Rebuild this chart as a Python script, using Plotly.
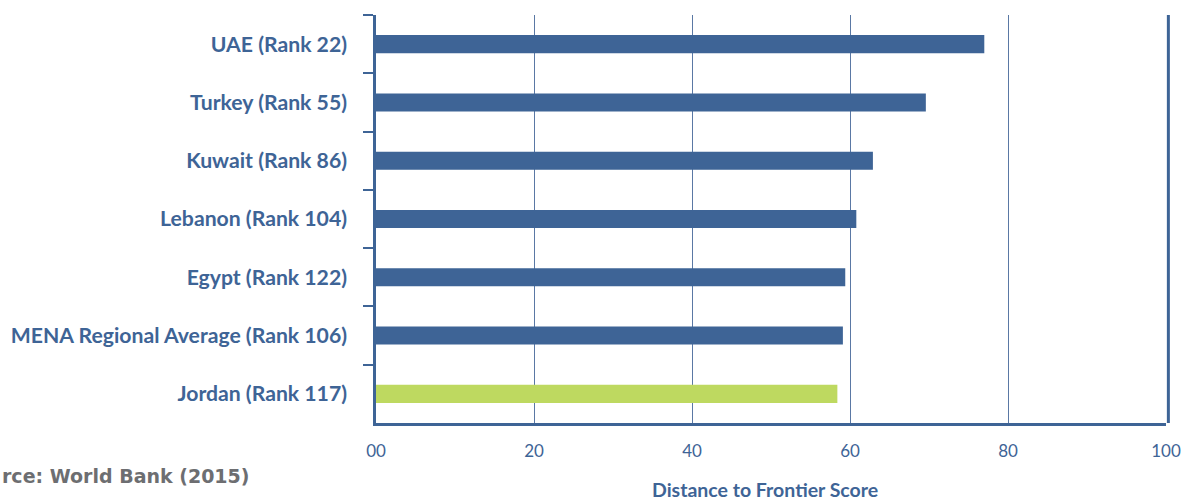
import plotly.graph_objects as go

categories = ["UAE (Rank 22)", "Turkey (Rank 55)", "Kuwait (Rank 86)", "Lebanon (Rank 104)",
              "Egypt (Rank 122)", "MENA Regional Average (Rank 106)", "Jordan (Rank 117)"]
scores = [77.0, 69.6, 62.9, 60.8, 59.4, 59.1, 58.4]
bar_colors = ["#3e6496"] * 6 + ["#bed960"]
tick_vals = [0, 20, 40, 60, 80, 100]
tick_text = ["00", "20", "40", "60", "80", "100"]

BLUE = "#3e6496"

fig = go.Figure()
fig.add_trace(go.Bar(
    y=categories, x=scores, orientation="h",
    marker=dict(color=bar_colors, line=dict(width=0)),
    width=0.31,
))

fig.update_layout(
    width=1184, height=502,
    margin=dict(l=376, r=18, t=15, b=79),
    plot_bgcolor="white", paper_bgcolor="white",
    showlegend=False,
    font=dict(family="Lato, sans-serif", color=BLUE),
    xaxis=dict(
        range=[0, 100], tickvals=tick_vals, ticktext=tick_text,
        showgrid=True, gridcolor="#5a78a4", gridwidth=1,
        showline=True, linecolor=BLUE, linewidth=2.5,
        ticks="", tickfont=dict(size=17, color=BLUE, family="Lato, sans-serif"),
        ticklabelstandoff=11, zeroline=False, automargin=False,
    ),
    yaxis=dict(
        categoryorder="array", categoryarray=categories, autorange="reversed",
        tickson="boundaries", ticks="outside", ticklen=10, tickwidth=2, tickcolor=BLUE,
        showline=True, linecolor=BLUE, linewidth=2.5,
        tickfont=dict(size=21.2, color=BLUE, family="Lato, sans-serif", weight="bold"),
        ticklabelstandoff=22, showgrid=False, automargin=False,
    ),
)

fig.add_shape(type="line", xref="paper", yref="paper", x0=1.003, x1=1.003, y0=0, y1=1,
              line=dict(color=BLUE, width=3))

fig.add_annotation(text="Distance to Frontier Score", xref="paper", yref="paper",
                   x=0.492, y=-0.163, xanchor="center", yanchor="middle", showarrow=False,
                   font=dict(size=19.5, color=BLUE, family="Lato, sans-serif", weight="bold"))
fig.add_annotation(text="rce: World Bank (2015)", xref="paper", yref="paper",
                   x=-376/790, y=-0.13, xanchor="left", yanchor="middle", showarrow=False,
                   font=dict(size=19, color="#6d6e71", family="DejaVu Sans, sans-serif", weight="bold"))

fig.write_html("out.html")
